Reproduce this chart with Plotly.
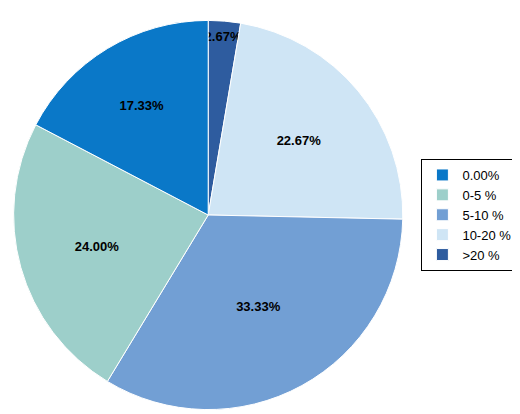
import plotly.graph_objects as go

labels = [">20 %", "10-20 %", "5-10 %", "0-5 %", "0.00%"]
values = [2.67, 22.67, 33.33, 24.00, 17.33]
colors = ["#2e5c9f", "#cfe5f5", "#729fd4", "#9dcfca", "#0a78c8"]

fig = go.Figure(go.Pie(
    labels=labels, values=values, sort=False, direction="clockwise", rotation=0,
    marker=dict(colors=colors, line=dict(color="white", width=1)),
    texttemplate="<b>%{value:.2f}%</b>", textposition="inside", insidetextorientation="horizontal",
    textfont=dict(family="Liberation Sans, Arial", size=13, color="black"),
    domain=dict(x=[0.005, 0.765], y=[0.03, 0.97]), hoverinfo="label+value",
))
fig.update_layout(
    width=520, height=414, margin=dict(l=0, r=0, t=0, b=0),
    paper_bgcolor="white", plot_bgcolor="white",
    uniformtext=dict(minsize=13, mode="show"),
    font=dict(family="Liberation Sans, Arial", size=13, color="black"),
    legend=dict(x=0.795, y=0.5, xanchor="left", yanchor="middle", bordercolor="black", borderwidth=1,
                traceorder="reversed", font=dict(size=13), itemwidth=30),
)
fig.write_html("out.html")
